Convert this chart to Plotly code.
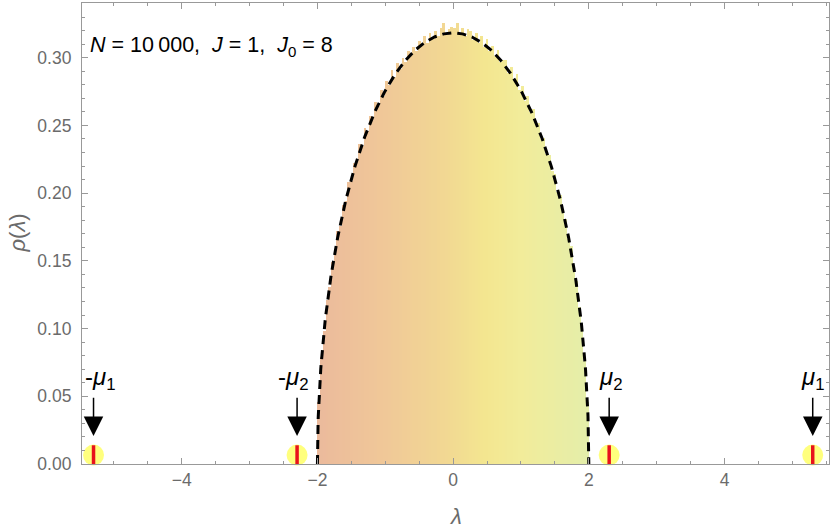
import numpy as np
import plotly.graph_objects as go

# histogram of eigenvalues (bin width 0.04 on [-2, 2])
bin_width = 0.04
bin_left = -2.0
rho_hist = [
    0.046, 0.079, 0.098, 0.121, 0.131, 0.149, 0.156, 0.172, 0.176, 0.191,
    0.194, 0.208, 0.209, 0.222, 0.223, 0.236, 0.235, 0.248, 0.246, 0.257,
    0.256, 0.267, 0.264, 0.276, 0.272, 0.283, 0.280, 0.291, 0.286, 0.296,
    0.292, 0.300, 0.297, 0.305, 0.301, 0.308, 0.305, 0.312, 0.309, 0.316,
    0.311, 0.318, 0.314, 0.320, 0.316, 0.322, 0.326, 0.317, 0.321, 0.323,
    0.322, 0.326, 0.318, 0.322, 0.316, 0.321, 0.320, 0.313, 0.318, 0.311,
    0.316, 0.308, 0.314, 0.305, 0.309, 0.301, 0.306, 0.297, 0.298, 0.298,
    0.289, 0.293, 0.283, 0.288, 0.276, 0.279, 0.268, 0.272, 0.260, 0.262,
    0.251, 0.252, 0.240, 0.241, 0.229, 0.228, 0.216, 0.214, 0.201, 0.199,
    0.185, 0.181, 0.166, 0.161, 0.144, 0.135, 0.116, 0.102, 0.076, 0.046,
]
centers = [bin_left + bin_width * (i + 0.5) for i in range(len(rho_hist))]

# outlier eigenvalues
mu_x = [-5.30, -2.30, 2.30, 5.30]
mu_y = [0.0066, 0.0066, 0.0066, 0.0066]
mu_labels = ["-<i>μ</i><sub>1</sub>", "-<i>μ</i><sub>2</sub>",
             "<i>μ</i><sub>2</sub>", "<i>μ</i><sub>1</sub>"]
label_shift = [7, -4, 2, 0]

# gradient used for the bars
grad = [[0.0, "rgb(235,186,156)"], [0.25, "rgb(240,200,152)"],
        [0.5, "rgb(242,218,146)"], [0.62, "rgb(243,230,144)"],
        [0.75, "rgb(242,236,154)"], [1.0, "rgb(228,238,170)"]]

# Wigner semicircle, radius 2
lam = 2 * np.cos(np.linspace(np.pi, 0, 400))
semi = np.sqrt(np.clip(4 - lam**2, 0, None)) / (2 * np.pi)

font = "Liberation Sans, Arial, sans-serif"
gray = "#6b6b6b"

fig = go.Figure()
fig.add_trace(go.Bar(x=centers, y=rho_hist, width=bin_width,
                     marker=dict(color=centers, colorscale=grad, cmin=-2, cmax=2,
                                 line=dict(width=0)),
                     hoverinfo="skip"))
fig.add_trace(go.Scatter(x=lam, y=semi, mode="lines",
                         line=dict(color="black", width=3, dash="9px,6px")))
fig.add_trace(go.Scatter(x=mu_x, y=mu_y, mode="markers", cliponaxis=False,
                         marker=dict(size=21, color="rgba(255,255,70,0.7)",
                                     line=dict(width=0))))
fig.add_trace(go.Scatter(x=mu_x, y=mu_y, mode="markers", cliponaxis=False,
                         marker=dict(symbol="line-ns", size=14,
                                     line=dict(width=3.5, color="#e8121c"))))

for x, lab, sh in zip(mu_x, mu_labels, label_shift):
    fig.add_annotation(x=x, y=0.0207, ax=x, ay=0.050, axref="x", ayref="y",
                       text="", showarrow=True, arrowhead=2, arrowsize=2.6,
                       arrowwidth=1.5, arrowcolor="black")
    fig.add_annotation(x=x, y=0.0635, text=lab, showarrow=False, xshift=sh,
                       font=dict(size=24, color="black", family=font))

fig.add_annotation(xref="paper", yref="paper", x=0.008, y=0.94, xanchor="left",
                   text="<i>N</i> = 10\u2009000,  <i>J</i> = 1,  <i>J</i><sub>0</sub> = 8",
                   showarrow=False, font=dict(size=21.5, color="black", family=font))
fig.add_annotation(xref="paper", yref="paper", x=0.5, y=-0.113, yanchor="middle",
                   text="<i>λ</i>", showarrow=False,
                   font=dict(size=22, color=gray, family=font))
fig.add_annotation(xref="paper", yref="paper", x=-0.087, y=0.5, xanchor="center",
                   text="<i>ρ</i>(<i>λ</i>)", showarrow=False, textangle=-90,
                   font=dict(size=22, color=gray, family=font))

axis_common = dict(showline=True, linecolor="#999999", linewidth=1.2, mirror="allticks",
                   ticks="inside", tickcolor="#999999", showgrid=False, zeroline=False,
                   tickfont=dict(size=17.5, color=gray, family=font))
fig.update_xaxes(range=[-5.47, 5.54], dtick=2, tick0=0, ticklen=6,
                 minor=dict(dtick=0.5, ticklen=3, ticks="inside", tickcolor="#999999"),
                 **axis_common)
fig.update_yaxes(range=[0, 0.3404], dtick=0.05, tick0=0, ticklen=6, tickformat=".2f",
                 ticklabelstandoff=6,
                 minor=dict(dtick=0.01, ticklen=3, ticks="inside", tickcolor="#999999"),
                 **axis_common)
fig.update_layout(width=830, height=529, margin=dict(l=82, r=1, t=3, b=65),
                  plot_bgcolor="white", paper_bgcolor="white", showlegend=False,
                  bargap=0, font=dict(family=font))

fig.write_html("out.html", config={"displayModeBar": False},
               post_script="document.body.style.margin='0';")
